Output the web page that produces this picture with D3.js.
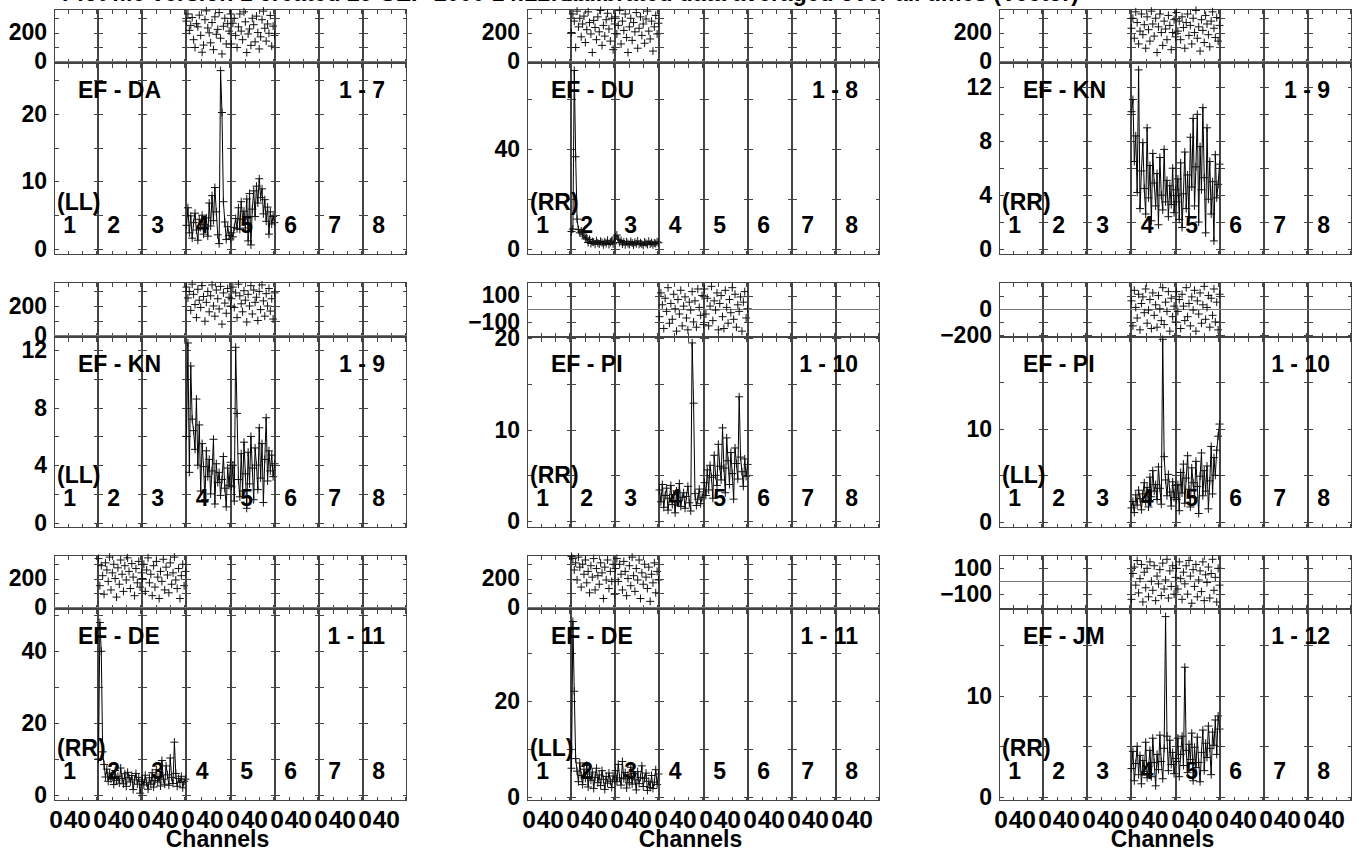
<!DOCTYPE html>
<html><head><meta charset="utf-8">
<script src="https://cdn.jsdelivr.net/npm/d3@7"></script>
<style>
body{margin:0;background:#fff}
svg text{font-family:"Liberation Sans",Arial,sans-serif;font-weight:bold;fill:#000}
</style>
</head><body>
<svg id="c" width="1362" height="855"></svg>
<script>
// ---------------- data ----------------
const channels = [0,2,4,6,8,10,12,14,16,18,20,22,24,26,28,30,32,34,36,38,40,42,44,46,48,50,52,54,56,58,60,62];
const ifNames = ["1","2","3","4","5","6","7","8"];
const chanLabelValues = [0, 40];
const baselineNames = ["EF - DA","EF - DU","EF - KN","EF - KN","EF - PI","EF - PI","EF - DE","EF - DE","EF - JM"];
const baselineNums  = ["1 - 7","1 - 8","1 - 9","1 - 9","1 - 10","1 - 10","1 - 11","1 - 11","1 - 12"];
const stokesLabels  = ["(LL)","(RR)","(RR)","(LL)","(RR)","(LL)","(RR)","(LL)","(RR)"];
const activeIFs     = [[4,5],[2,3],[4,5],[4,5],[4,5],[4,5],[2,3],[2,3],[4,5]];

const ampDomains = [[-0.74,27.6],[-2,74.8],[-0.37,13.85],[-0.3,12.95],[-0.65,20.2],[-0.55,19.9],[-1.4,51.9],[-0.6,39.2],[-0.3,18.6]];
const ampTicks   = [[0,5,10,15,20,25],[0,20,40,60],[0,2,4,6,8,10,12],[0,2,4,6,8,10,12],[0,5,10,15,20],[0,5,10,15],[0,10,20,30,40,50],[0,10,20,30],[0,5,10,15]];
const ampLabels  = [[0,10,20],[0,40],[0,4,8,12],[0,4,8,12],[0,10,20],[0,10],[0,20,40],[0,20],[0,10]];

const phaseFull = [true,true,true,true,false,false,true,true,false];
const phaseTicks  = [[100,200,300],[100,200,300],[100,200,300],[100,200,300],[-100,0,100],[-200,-100,0,100,200],[100,200,300],[100,200,300],[-100,0,100]];
const phaseLabels = [[0,200],[0,200],[0,200],[0,200],[-100,100],[-200,0],[0,200],[0,200],[-100,100]];

// amplitudes (two active IFs per baseline)
const ampA4 = [3.5,6.1,2.4,4.9,1.6,3.9,5.3,2.8,1.3,4.4,3.2,5.0,2.2,3.6,4.6,1.9,6.8,3.4,7.9,4.2,9.1,5.5,2.1,0.8,26.4,20.2,7.0,4.0,1.4,3.3,2.0,1.5];
const ampA5 = [2.4,1.8,3.2,4.5,3.0,6.1,2.9,7.0,4.4,5.6,3.1,7.4,1.2,8.2,0.6,5.9,8.6,4.8,9.3,6.8,10.4,7.6,8.9,5.2,7.3,4.1,6.2,2.2,5.5,3.7,4.8,3.9];
const ampB2 = [7.0,8.0,71.6,37.0,12.0,7.8,6.5,7.2,6.0,5.2,4.1,4.5,2.6,3.8,2.2,3.0,2.8,1.9,3.3,2.4,2.0,3.1,2.6,1.7,2.9,2.2,3.5,1.8,2.7,3.2,2.1,4.0];
const ampB3 = [4.8,5.6,3.9,2.6,3.4,2.0,2.8,1.7,2.9,2.2,1.8,3.0,2.4,1.6,2.7,2.1,3.2,1.9,2.5,2.0,1.5,2.8,2.3,1.8,3.1,2.0,2.6,1.7,2.4,2.2,2.9,2.5];
const ampC4 = [10.2,11.1,6.5,8.4,4.2,13.3,3.0,5.8,7.9,4.5,2.6,9.0,3.8,6.2,2.1,7.1,4.9,3.2,5.6,1.8,6.8,4.0,2.9,7.4,3.5,5.1,2.4,4.7,3.3,6.0,2.7,4.4];
const ampC5 = [3.5,5.2,2.2,6.4,1.6,4.1,7.2,3.0,5.5,2.4,8.3,4.6,9.7,3.2,6.1,10.0,2.0,7.6,4.4,10.5,5.3,1.2,9.0,3.7,6.5,2.6,5.0,0.6,7.0,3.8,4.8,6.3];
const ampD4 = [6.0,12.5,3.5,10.9,7.2,6.4,5.1,8.6,4.0,6.8,2.2,5.5,3.9,1.6,5.0,3.2,4.4,2.0,3.6,5.8,1.3,4.1,2.8,3.5,1.9,3.0,4.6,2.4,1.1,3.8,2.6,4.2];
const ampD5 = [2.5,4.0,1.5,12.2,7.6,3.0,1.8,4.8,2.2,5.6,3.4,1.0,4.9,2.7,6.0,3.8,1.6,5.2,4.0,2.3,6.6,3.1,5.5,1.4,4.4,7.3,2.9,5.0,3.6,4.7,3.2,4.1];
const ampE4 = [3.4,2.1,4.0,1.5,2.8,3.6,1.2,2.5,3.9,1.8,2.9,0.9,3.3,2.2,4.1,1.6,2.6,3.1,1.4,2.7,3.8,2.0,1.1,19.5,12.9,3.0,1.7,2.4,3.5,1.9,2.6,3.2];
const ampE5 = [4.2,2.8,5.6,3.4,6.1,4.8,2.5,7.2,5.0,3.9,8.4,6.0,4.5,10.2,5.8,3.1,9.1,6.6,4.0,7.5,5.2,2.4,8.0,6.3,4.6,13.6,7.0,5.4,3.8,6.8,4.9,6.2];
const ampF4 = [1.5,2.2,1.0,2.9,1.8,3.4,2.5,1.3,3.0,4.2,2.1,3.7,1.6,4.8,2.7,5.5,3.3,4.0,2.4,5.9,3.6,1.9,19.6,7.0,4.5,2.8,5.1,3.2,1.7,4.3,2.6,3.9];
const ampF5 = [2.4,4.0,1.2,5.3,3.1,6.2,2.0,4.7,7.1,3.5,1.6,5.8,4.2,2.6,6.5,3.8,0.9,4.9,7.4,2.8,5.5,3.3,6.0,1.4,4.4,8.1,3.0,6.9,5.0,7.7,9.2,10.5];
const ampG2 = [10,48,40,12,8.5,5.0,7.2,3.8,6.1,4.4,5.6,2.9,6.8,4.0,5.2,3.3,7.5,4.6,3.1,5.9,2.4,6.3,4.8,3.6,5.4,1.5,4.2,6.0,3.0,4.9,0.5,3.7];
const ampG3 = [4.2,2.8,5.5,3.4,1.6,4.8,3.0,6.2,2.2,4.0,7.0,3.6,5.1,2.5,9.6,4.4,3.0,8.1,5.6,2.7,10.3,4.9,3.2,14.7,6.0,2.4,4.6,3.5,5.2,2.0,3.8,4.4];
const ampH2 = [6,36.5,22,8.0,5.4,3.2,7.1,4.5,2.6,5.8,3.9,6.6,2.1,4.8,3.5,5.2,1.8,4.1,6.0,3.0,4.6,2.4,5.5,3.7,1.6,4.3,2.9,5.0,3.3,2.0,4.4,3.6];
const ampH3 = [5.5,3.2,6.8,4.0,2.5,7.4,3.8,5.1,1.9,4.6,3.0,6.2,2.7,4.9,3.6,1.5,5.3,2.8,4.1,6.5,2.2,3.9,5.0,1.4,3.3,2.0,4.5,1.8,3.1,5.7,2.6,4.8];
const ampI4 = [2.8,4.5,1.6,3.3,5.0,2.2,4.1,1.3,3.6,2.5,5.4,1.9,3.0,4.6,2.0,5.8,3.4,1.1,4.2,2.7,6.1,3.5,1.8,4.8,17.8,6.0,2.6,5.6,3.2,4.4,2.3,3.8];
const ampI5 = [3.5,5.8,2.0,4.2,6.0,3.1,12.8,4.6,2.4,5.2,3.7,6.3,1.6,4.9,2.9,5.9,3.4,1.5,4.4,6.6,2.6,5.3,3.9,7.0,4.8,2.2,6.4,5.1,7.6,4.2,8.0,6.7];

// phases (degrees)
const phA4 = [280,330,215,250,305,150,95,262,240,322,180,62,112,290,352,232,198,128,270,80,310,188,222,340,160,50,244,300,120,262,210,330];
const phA5 = [120,265,300,180,95,240,330,210,150,345,275,60,190,225,110,300,255,135,315,200,85,170,290,350,230,140,260,195,320,105,245,180];
const phB2 = [200,330,280,95,350,240,300,170,260,315,130,220,345,270,190,60,285,235,150,310,205,355,110,250,175,290,335,225,140,300,80,260];
const phB3 = [310,190,250,355,120,280,215,330,165,60,240,300,145,270,205,340,90,230,310,180,260,125,295,350,210,155,280,70,240,320,190,265];
const phC4 = [230,300,160,345,270,120,210,330,185,255,90,310,220,140,350,260,175,300,60,240,330,200,110,280,225,150,320,250,80,200,290,170];
const phC5 = [340,210,280,150,310,235,90,270,330,180,250,120,300,200,355,160,240,70,290,215,130,320,260,185,100,280,345,230,165,305,140,250];
const phD4 = [330,255,300,170,350,280,210,120,315,240,190,340,265,95,225,300,160,270,345,200,130,310,250,180,335,75,290,220,150,320,260,200];
const phD5 = [250,330,190,290,120,350,270,215,160,305,240,90,280,200,340,145,310,225,260,100,300,175,345,235,130,285,200,320,165,250,110,290];
const phE4 = [-60,120,30,-150,80,-20,160,-110,40,-80,110,0,-170,70,-40,140,-130,20,90,-70,-160,50,-10,130,-100,60,-140,150,10,-50,100,-120];
const phE5 = [150,-40,80,-130,20,170,-90,60,-10,120,-160,40,100,-60,-150,140,10,-110,70,-30,160,-80,110,-140,30,-20,90,-170,50,130,-70,0];
const phF4 = [60,-130,140,10,-70,110,-160,40,90,-30,150,-110,-10,70,-150,120,-50,30,-140,100,0,-90,160,-120,50,-20,130,-170,80,-60,20,-100];
const phF5 = [130,-20,70,-150,110,20,-90,160,-60,40,-130,90,-10,140,-170,60,-40,120,-110,30,170,-80,10,100,-140,80,-50,150,-100,50,-160,110];
const phG2 = [340,150,290,220,90,310,260,180,350,120,240,300,200,70,275,160,330,230,110,290,190,345,250,130,305,210,80,270,170,320,140,240];
const phG3 = [200,300,110,260,345,170,230,80,290,140,320,210,60,250,180,335,120,280,225,100,310,160,240,350,190,130,270,60,220,300,150,250];
const phH2 = [355,340,260,310,190,350,280,140,300,230,330,170,250,100,290,210,340,120,270,220,160,310,240,60,280,190,330,130,250,180,300,90];
const phH3 = [270,340,180,300,230,120,320,250,80,200,290,150,350,220,110,270,190,330,60,240,160,300,210,130,280,40,230,170,310,100,250,190];
const phI4 = [-140,60,110,-30,160,-90,20,130,-160,70,-50,100,-120,150,0,-70,120,-150,40,-20,90,-110,140,-60,10,170,-130,80,-40,120,-100,30];
const phI5 = [100,-60,150,20,-140,70,-20,120,-100,160,40,-170,90,-40,130,-120,10,80,-80,150,-150,50,-10,110,-130,60,170,-70,30,-160,100,-30];

const ampSeries   = [[ampA4,ampA5],[ampB2,ampB3],[ampC4,ampC5],[ampD4,ampD5],[ampE4,ampE5],[ampF4,ampF5],[ampG2,ampG3],[ampH2,ampH3],[ampI4,ampI5]];
const phaseSeries = [[phA4,phA5],[phB2,phB3],[phC4,phC5],[phD4,phD5],[phE4,phE5],[phF4,phF5],[phG2,phG3],[phH2,phH3],[phI4,phI5]];

// ---------------- layout ----------------
const colX = [54, 527, 999];
const panelW = 353;
const rowPhaseTop = [9, 282, 555];
const rowDivide   = [61.5, 335.5, 607.5];
const rowBottom   = [254, 527, 800];
const nIF = 8;
const segW = panelW / nIF;
const FS = 23;
const FSX = 24.5;
const frameCol = "#444";

const svg = d3.select("#c");

// header line (cut off by the top edge, as in the original)
svg.append("text").attr("x", 62).attr("y", 1).style("font-size", FS + "px")
  .text("Plot file version 1  created 29-SEP-2000 14:22:07");
svg.append("text").attr("x", 560).attr("y", 1).style("font-size", FS + "px")
  .text("Calibrated data  averaged  over  all  times  (Vector)");

const crossPath = "M-4,0H4M0,-4V4";

for (let p = 0; p < 9; p++) {
  const r = Math.floor(p / 3), c = p % 3;
  const x0 = colX[c];
  const pTop = rowPhaseTop[r], pBot = rowDivide[r], aTop = rowDivide[r] + 1, aBot = rowBottom[r];
  const g = svg.append("g");

  const yAmp = d3.scaleLinear().domain(ampDomains[p]).range([aBot, aTop]);
  const yPh = d3.scaleLinear().domain(phaseFull[p] ? [-3, 365] : [-203, 203]).range([pBot, pTop]);

  for (let i = 0; i < nIF; i++) {
    const xa = Math.round(x0 + i * segW);
    const xb = Math.round(x0 + (i + 1) * segW) - 1;
    const xs = d3.scaleLinear().domain([0, 62]).range([xa + 0.5, xb + 0.5]);
    const seg = g.append("g");

    // frames
    [[pTop, pBot], [aTop, aBot]].forEach(([t, b]) => {
      seg.append("rect").attr("x", xa + 0.5).attr("y", Math.round(t) + 0.5)
        .attr("width", xb - xa).attr("height", Math.round(b) - Math.round(t))
        .attr("fill", "none").attr("stroke", frameCol).attr("stroke-width", 1)
        .attr("shape-rendering", "crispEdges");
    });

    // x ticks (inward) on all horizontal edges
    const xt = [20, 40, 60];
    [[Math.round(pTop) + 0.5, "b"], [Math.round(pBot) + 0.5, "t"], [Math.round(aTop) + 0.5, "b"], [Math.round(aBot) + 0.5, "t"]].forEach(([yy, dir]) => {
      const ax = dir === "b" ? d3.axisBottom(xs) : d3.axisTop(xs);
      seg.append("g").attr("transform", `translate(0,${yy})`)
        .call(ax.tickValues(xt).tickSize(4).tickFormat(""))
        .call(s => s.select(".domain").remove())
        .call(s => s.selectAll("line").attr("stroke", frameCol).attr("shape-rendering", "crispEdges"));
    });
    // y ticks on left and right edges (inward)
    [[yAmp, ampTicks[p]], [yPh, phaseTicks[p]]].forEach(([sc, tv]) => {
      seg.append("g").attr("transform", `translate(${xa + 0.5},0)`)
        .call(d3.axisRight(sc).tickValues(tv).tickSize(4).tickFormat(""))
        .call(s => s.select(".domain").remove())
        .call(s => s.selectAll("line").attr("stroke", frameCol).attr("shape-rendering", "crispEdges"));
      seg.append("g").attr("transform", `translate(${xb + 0.5},0)`)
        .call(d3.axisLeft(sc).tickValues(tv).tickSize(4).tickFormat(""))
        .call(s => s.select(".domain").remove())
        .call(s => s.selectAll("line").attr("stroke", frameCol).attr("shape-rendering", "crispEdges"));
    });

    // phase zero line
    seg.append("line").attr("x1", xa).attr("x2", xb + 1)
      .attr("y1", Math.round(yPh(0)) + 0.5).attr("y2", Math.round(yPh(0)) + 0.5)
      .attr("stroke", "#777").attr("stroke-width", 1).attr("shape-rendering", "crispEdges");

    // IF number
    seg.append("text").attr("x", xs(22)).attr("y", aBot - 21)
      .attr("text-anchor", "middle").style("font-size", FS + "px").text(ifNames[i]);

    // channel labels on bottom row
    if (r === 2) {
      seg.append("g").attr("transform", `translate(0,${aBot})`)
        .call(d3.axisBottom(xs).tickValues(chanLabelValues).tickSize(0).tickPadding(11).tickFormat(d3.format("d")))
        .call(s => s.select(".domain").remove())
        .call(s => s.selectAll("text").style("font-size", FSX + "px")
          .attr("dx", d => d === 0 ? "0.04em" : "-0.22em"));
    }

    // data
    const k = activeIFs[p].indexOf(i + 1);
    if (k >= 0) {
      const amps = ampSeries[p][k], phs = phaseSeries[p][k];
      const pts = channels.map((ch, j) => [xs(ch), yAmp(amps[j])]);
      seg.append("path").attr("d", d3.line()(pts)).attr("fill", "none")
        .attr("stroke", "#000").attr("stroke-width", 1);
      seg.selectAll("path.ac").data(pts).join("path").attr("class", "ac")
        .attr("transform", d => `translate(${d[0]},${d[1]})`).attr("d", crossPath)
        .attr("stroke", "#111").attr("stroke-width", 1).attr("fill", "none");
      seg.selectAll("path.pc").data(channels.map((ch, j) => [xs(ch), yPh(phs[j])])).join("path").attr("class", "pc")
        .attr("transform", d => `translate(${d[0]},${d[1]})`).attr("d", crossPath)
        .attr("stroke", "#111").attr("stroke-width", 1).attr("fill", "none");
    }
  }

  // y labels
  g.append("g").attr("transform", `translate(${x0},0)`)
    .call(d3.axisLeft(yAmp).tickValues(ampLabels[p]).tickSize(0).tickPadding(7).tickFormat(d3.format("d")))
    .call(s => s.select(".domain").remove())
    .call(s => s.selectAll("text").style("font-size", FS + "px"));
  g.append("g").attr("transform", `translate(${x0},0)`)
    .call(d3.axisLeft(yPh).tickValues(phaseLabels[p]).tickSize(0).tickPadding(7).tickFormat(d3.format("d")))
    .call(s => s.select(".domain").remove())
    .call(s => s.selectAll("text").style("font-size", FS + "px"));

  // annotations
  g.append("text").attr("x", x0 + 24).attr("y", aTop + 35).style("font-size", FS + "px").text(baselineNames[p]);
  g.append("text").attr("x", x0 + panelW - 22).attr("y", aTop + 35).attr("text-anchor", "end")
    .style("font-size", FS + "px").text(baselineNums[p]);
  g.append("text").attr("x", x0 + 3).attr("y", aBot - 44).style("font-size", FS + "px").text(stokesLabels[p]);

  if (r === 2) {
    g.append("text").attr("x", x0 + panelW / 2 - 13).attr("y", 847).attr("text-anchor", "middle")
      .style("font-size", FS + "px").text("Channels");
  }
}
</script>
</body></html>
